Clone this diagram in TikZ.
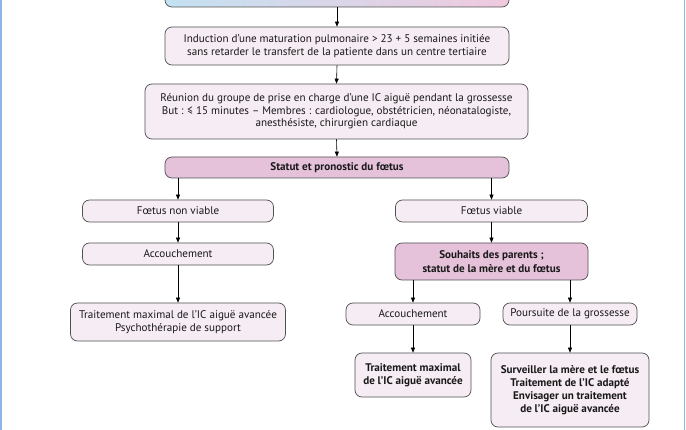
\documentclass[tikz,border=0pt]{standalone}
\usepackage{fontspec}
\setmainfont{PT Sans}
\usetikzlibrary{arrows.meta}
\definecolor{pinkL}{HTML}{F6ECF4}
\definecolor{pinkD}{HTML}{E6C2DA}
\definecolor{edge}{HTML}{505050}
\definecolor{frameblue}{HTML}{8DB6E6}
\definecolor{gradA}{HTML}{C3E2F2}
\definecolor{gradB}{HTML}{F0C9DE}
\tikzset{
  box/.style={draw=edge, fill=pinkL, rounded corners=7pt, align=center,
    inner sep=0pt, line width=0.7pt, text=black!90, font=\fontsize{11.1}{12.6}\selectfont},
  boxdark/.style={box, fill=pinkD, font=\fontsize{11.1}{13.4}\selectfont\bfseries},
  boxbold/.style={box, font=\fontsize{11.1}{13}\selectfont\bfseries},
  arr/.style={draw=black, line width=0.6pt, -{Triangle[length=5pt,width=4pt]}},
}
\begin{document}
\begin{tikzpicture}[x=1pt,y=-1pt]
\useasboundingbox (0,0) rectangle (686,430);
\clip (0,0) rectangle (686,430);
\fill[white] (0,0) rectangle (686,430);
% top box (cut off)
\node[box, left color=gradA, right color=gradB, minimum width=344pt, minimum height=40pt] (top) at (337,-13) {};
\node[box, minimum width=344pt, minimum height=38pt] (ind) at (337,46)
  {Induction d'une maturation pulmonaire > 23 + 5 semaines initiée\\sans retarder le transfert de la patiente dans un centre tertiaire};
\node[box, minimum width=383pt, minimum height=55pt] (reu) at (336.5,111.5)
  {Réunion du groupe de prise en charge d'une IC aiguë pendant la grossesse\\But : ≤ 15 minutes – Membres : cardiologue, obstétricien, néonatalogiste,\\anesthésiste, chirurgien cardiaque};
\node[boxdark, minimum width=344pt, minimum height=21pt] (stat) at (337,167.5) {Statut et pronostic du fœtus};
\node[box, minimum width=191pt, minimum height=22pt] (fnv) at (178,211) {Fœtus non viable};
\node[box, minimum width=191pt, minimum height=22pt] (accL) at (178,254) {Accouchement};
\node[box, minimum width=215pt, minimum height=38pt] (traitL) at (178,322)
  {Traitement maximal de l'IC aiguë avancée\\Psychothérapie de support};
\node[box, minimum width=192pt, minimum height=22pt] (fv) at (491.5,211) {Fœtus viable};
\node[boxdark, minimum width=193pt, minimum height=37pt] (souh) at (491.5,261.5)
  {Souhaits des parents ;\\statut de la mère et du fœtus};
\node[box, minimum width=134pt, minimum height=22pt] (accR) at (413,314) {Accouchement};
\node[box, minimum width=134pt, minimum height=22pt] (pours) at (570,314) {Poursuite de la grossesse};
\node[boxbold, minimum width=116pt, minimum height=44pt] (traitR) at (413,375)
  {Traitement maximal\\de l'IC aiguë avancée};
\node[boxbold, minimum width=158pt, minimum height=74pt] (surv) at (570,390)
  {Surveiller la mère et le fœtus\\Traitement de l'IC adapté\\Envisager un traitement\\de l'IC aiguë avancée};
% arrows
\draw[arr] (top.south) -- (ind.north);
\draw[arr] (ind.south) -- (reu.north);
\draw[arr] (reu.south) -- (stat.north);
\draw[arr] (fnv.north |- stat.south) -- (fnv.north);
\draw[arr] (fnv.south) -- (accL.north);
\draw[arr] (accL.south) -- (traitL.north);
\draw[arr] (fv.north |- stat.south) -- (fv.north);
\draw[arr] (fv.south) -- (souh.north);
\draw[arr] (accR.north |- souh.south) -- (accR.north);
\draw[arr] (pours.north |- souh.south) -- (pours.north);
\draw[arr] (accR.south) -- (traitR.north);
\draw[arr] (pours.south) -- (surv.north);
% side frame lines
\draw[frameblue, line width=1.6pt] (1,0) -- (1,430);
\draw[frameblue, line width=1.6pt] (684.6,0) -- (684.6,430);
\end{tikzpicture}
\end{document}
